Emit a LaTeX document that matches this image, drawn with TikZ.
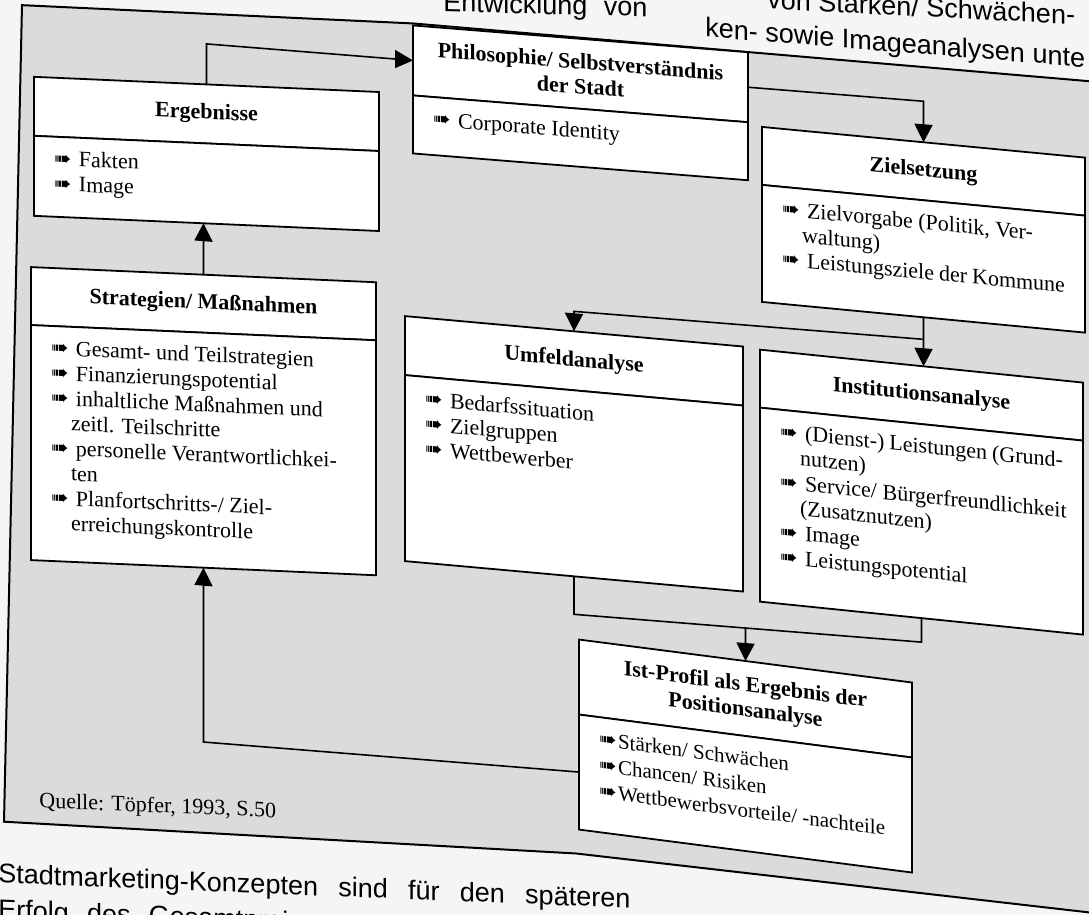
\documentclass[tikz,border=0pt]{standalone}
\usepackage{fontspec}
\setmainfont{Liberation Serif}
\newfontfamily\pagefont{Liberation Sans}
\newfontfamily\symfont{DejaVu Sans}
\usetikzlibrary{positioning,calc,arrows.meta}

\definecolor{paper}{gray}{0.96}
\definecolor{panel}{gray}{0.86}

\newcommand{\bul}[1][12.5pt]{\makebox[#1][l]{\raisebox{0.3pt}{\symfont\fontsize{10.5}{10.5}\selectfont ➠}}}
\newcommand{\cont}{\hspace*{10pt}}
\newcommand{\boxbody}[3]{\parbox[c][#1][t]{#2}{\raggedright\rule{0pt}{9.5pt}#3}}

\tikzset{
  panelframe/.style={draw=black, line width=1pt, fill=panel},
  head/.style={draw, line width=0.9pt, fill=white, outer sep=0pt, inner sep=2pt,
    font=\bfseries\fontsize{11}{12.5}\selectfont, align=center},
  body/.style={draw, line width=0.9pt, fill=white, outer sep=0pt,
    inner xsep=10pt, inner ysep=5pt, font=\fontsize{11}{12.5}\selectfont},
  link/.style={line width=0.8pt},
  arr/.style={link, -{Triangle[length=9pt,width=9pt]}},
  tilt/.style={yslant=#1},
  pagetxt/.style={font=\pagefont\fontsize{13.5}{16}\selectfont, anchor=base west, inner sep=0pt}
}

\begin{document}
\begin{tikzpicture}[x=0.5pt, y=-0.5pt]
  \useasboundingbox (0,0) rectangle (1089,915);
  \fill[paper] (0,0) rectangle (1089,915);
  \clip (0,0) rectangle (1089,915);
  \begin{scope}[transform canvas={yshift=21.8pt, yslant=-0.08}]
    \path[panelframe] (22,47) -- (413,34) -- (1150,38) -- (1150,871)
      -- (576,851) -- (4,865) -- cycle;

    \node[pagetxt, tilt=0.055] (entw) at (443,19.7) {\makebox[102pt][s]{Entwicklung von}};
    \node[pagetxt, tilt=0.03] (staerken) at (767,-8.8) {von Stärken/ Schwächen-};
    \node[pagetxt] (image) at (705,24) {ken- sowie Imageanalysen unte};
    \node[pagetxt, tilt=0.04] (stadt) at (-2,926.6)
      {\makebox[316pt][s]{Stadtmarketing-Konzepten sind für den späteren}};
    \node[pagetxt, tilt=0.04] (erfolg) at (-2,962.6)
      {\makebox[145pt][s]{Erfolg des Gesamtproj}};

    \node[head, minimum width=172.5pt, minimum height=29.5pt, tilt=0.036] (ergH)
      at (206.5,141) {Ergebnisse};
    \node[body, below=0pt of ergH, tilt=0.036] (ergB)
      {\boxbody{30pt}{152.5pt}{\bul Fakten\\ \bul Image}};

    \node[head, minimum width=172.5pt, minimum height=29pt, tilt=0.036] (stratH)
      at (203.5,331) {Strategien/ Maßnahmen};
    \node[body, below=0pt of stratH, tilt=0.036] (stratB)
      {\boxbody{107.5pt}{152.5pt}{\bul Gesamt- und Teilstrategien\\
        \bul Finanzierungspotential\\
        \bul inhaltliche Maßnahmen und\\ \cont zeitl. Teilschritte\\
        \bul personelle Verantwortlichkei-\\ \cont ten\\
        \bul Planfortschritts-/ Ziel-\\ \cont erreichungskontrolle}};

    \node[head, minimum width=167.5pt, minimum height=35pt] (philH)
      at (580.5,71) {Philosophie/ Selbstverständnis\\der Stadt};
    \node[body, below=0pt of philH] (philB)
      {\boxbody{19pt}{147.5pt}{\bul Corporate Identity}};

    \node[head, minimum width=161.5pt, minimum height=29pt, tilt=-0.015] (zielH)
      at (923.5,141) {Zielsetzung};
    \node[body, below=0pt of zielH, tilt=-0.015] (zielB)
      {\boxbody{48.5pt}{141.5pt}{\bul Zielvorgabe (Politik, Ver-\\ \cont waltung)\\
        \bul Leistungsziele der Kommune}};

    \node[head, minimum width=169pt, minimum height=29.5pt, tilt=-0.01] (umfH)
      at (574,358.5) {Umfeldanalyse};
    \node[body, below=0pt of umfH, tilt=-0.01] (umfB)
      {\boxbody{83pt}{149pt}{\bul Bedarfssituation\\ \bul Zielgruppen\\ \bul Wettbewerber}};

    \node[head, minimum width=161.5pt, minimum height=29pt, tilt=-0.022] (instH)
      at (921.5,365) {Institutionsanalyse};
    \node[body, below=0pt of instH, tilt=-0.022] (instB)
      {\boxbody{87pt}{141.5pt}{\bul (Dienst-) Leistungen (Grund-\\ \cont nutzen)\\
        \bul \mbox{Service/ Bürgerfreundlichkeit}\\ \cont (Zusatznutzen)\\
        \bul Image\\ \bul Leistungspotential}};

    \node[head, minimum width=166.5pt, minimum height=37.5pt, tilt=-0.049] (istH)
      at (745.5,682.5) {Ist-Profil als Ergebnis der\\Positionsanalyse};
    \node[body, below=0pt of istH, tilt=-0.049, font=\fontsize{10.5}{13}\selectfont] (istB)
      {\boxbody{47.5pt}{146.5pt}{\bul[9.5pt]Stärken/ Schwächen\\
        \bul[9.5pt]Chancen/ Risiken\\ \bul[9.5pt]Wettbewerbsvorteile/ -nachteile}};

    \node[anchor=base west, inner sep=0pt, font=\fontsize{11}{13}\selectfont, tilt=0.038]
      (quelle) at (39,848) {Quelle: Töpfer, 1993, S.50};

    \coordinate (split) at ($(zielB.south)!0.45!(instH.north)$);
    \coordinate (join) at ($(istH.north)+(0,-33)$);

    \draw[arr] (ergH.north) |- (philH.west);
    \draw[arr] (philH.east) -| (zielH.north);
    \draw[arr] (stratH.north) -- (stratH.north |- ergB.south);
    \draw[arr] (zielB.south) -- (zielB.south |- instH.north);
    \draw[arr] (split) -| (umfH.north);
    \draw[link] (umfB.south) |- (join) -| (instB.south);
    \draw[arr] (join) -- (istH.north);
    \draw[arr] (istB.west) -| (stratB.south);
  \end{scope}
\end{tikzpicture}
\end{document}
